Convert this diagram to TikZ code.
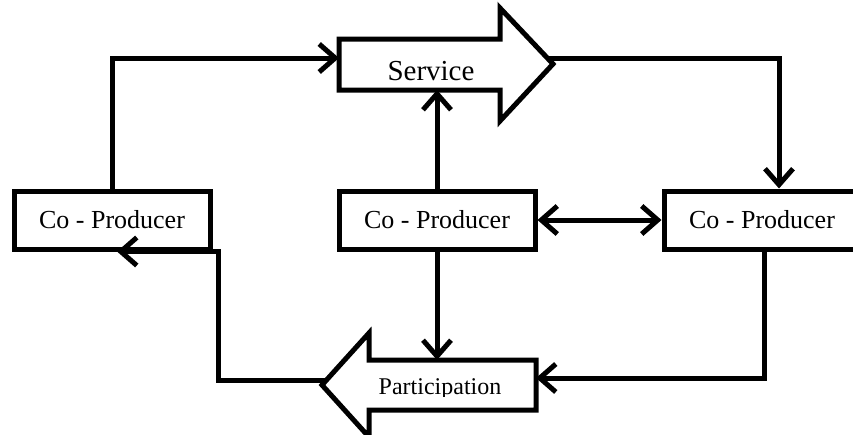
\documentclass[tikz,border=0pt]{standalone}
\usepackage{fontspec}
\setmainfont{Liberation Serif}
\usetikzlibrary{arrows.meta}
\begin{document}
\begin{tikzpicture}[x=1pt,y=-1pt]
	\tikzstyle{unit} = [rectangle,line width=5pt,draw,minimum width=196pt,minimum height=58pt,inner sep=0pt,font=\fontsize{26}{30}\selectfont]
	\tikzstyle{bigarrow} = [line width=5pt,line join=miter]
	\tikzstyle{link} = [line width=5pt,-{Straight Barb[length=16pt,width=28pt]}]
		
		\useasboundingbox (0,0) rectangle (853,434);
		
		\node[unit] (p1) at (112,220){Co - Producer};
		\node[unit] (p2) at (437,220){Co - Producer};
		\node[unit] (p3) at (762,220){Co - Producer};
		
		% service arrow
		\draw[bigarrow] (339,39) -- (500,39) -- (500,8) -- (553,64) -- (500,121) -- (500,90) -- (339,90) -- cycle;
		\coordinate (svcin) at (339,58);
		\coordinate (svcout) at (549,58);
		\coordinate (svcbot) at (437,90);
		\node[anchor=base,inner sep=0pt,font=\fontsize{29}{33}\selectfont] (svc) at (431,80){Service};
		
		% participation arrow
		\draw[bigarrow] (536,360) -- (369,360) -- (369,333) -- (322,385) -- (369,437) -- (369,410) -- (536,410) -- cycle;
		\coordinate (partin) at (536,378);
		\coordinate (partout) at (326,380);
		\coordinate (parttop) at (437,360);
		\begin{scope}
			\clip (372,362) rectangle (533,396);
			\node[anchor=base,inner sep=0pt,font=\fontsize{24}{28}\selectfont] (part) at (440,394){Participation};
		\end{scope}
		
		\draw[link] (p1.north) |- (svcin);
		\draw[link] (svcout) -| ([xshift=17pt]p3.north);
		\draw[link] (p2.north) -- (svcbot);
		\draw[link,{Straight Barb[length=16pt,width=28pt]}-{Straight Barb[length=16pt,width=28pt]}] (p2.east) -- (p3.west);
		\draw[link] (p2.south) -- (parttop);
		\draw[link] ([xshift=2pt]p3.south) |- (partin);
		\draw[link] (partout) -| ([xshift=6pt]p1.south east) -- ([xshift=5pt]p1.south);
		
\end{tikzpicture}
\end{document}
